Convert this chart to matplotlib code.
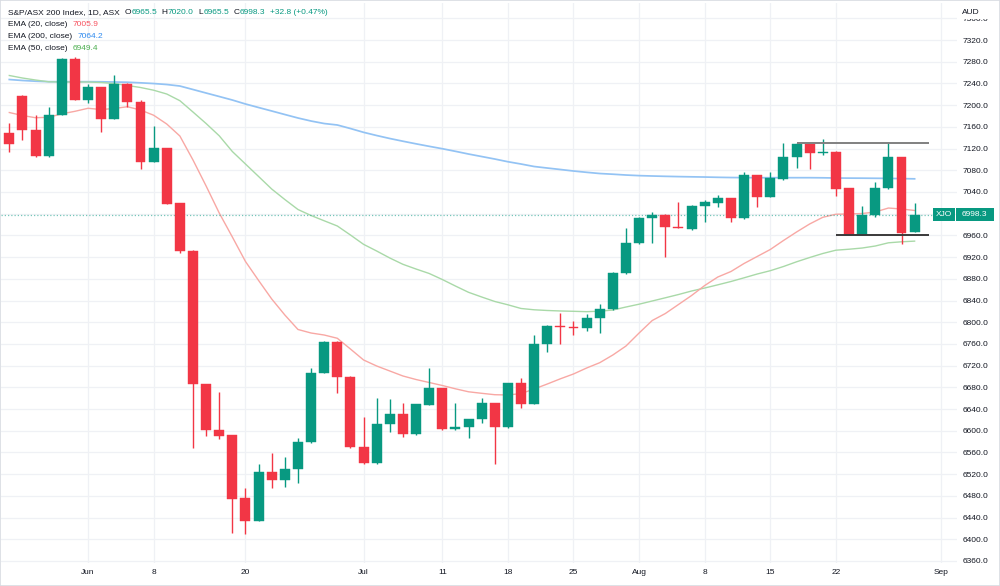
import matplotlib
matplotlib.use("Agg")
import matplotlib.pyplot as plt
from matplotlib.patches import Rectangle
import numpy as np

# ---------------- data ----------------
dates = ["May 24", "May 25", "May 26", "May 27", "May 30", "May 31",
         "Jun 1", "Jun 2", "Jun 3", "Jun 6", "Jun 7", "Jun 8", "Jun 9", "Jun 10",
         "Jun 14", "Jun 15", "Jun 16", "Jun 17", "Jun 20", "Jun 21", "Jun 22",
         "Jun 23", "Jun 24", "Jun 27", "Jun 28", "Jun 29", "Jun 30",
         "Jul 1", "Jul 4", "Jul 5", "Jul 6", "Jul 7", "Jul 8", "Jul 11", "Jul 12",
         "Jul 13", "Jul 14", "Jul 15", "Jul 18", "Jul 19", "Jul 20", "Jul 21",
         "Jul 22", "Jul 25", "Jul 26", "Jul 27", "Jul 28", "Jul 29",
         "Aug 1", "Aug 2", "Aug 3", "Aug 4", "Aug 5", "Aug 8", "Aug 9", "Aug 10",
         "Aug 11", "Aug 12", "Aug 15", "Aug 16", "Aug 17", "Aug 18", "Aug 19",
         "Aug 22", "Aug 23", "Aug 24", "Aug 25", "Aug 26", "Aug 29", "Aug 30"]
future_dates = ["Aug 31", "Sep 1"]

opens = [7149.2, 7217.4, 7154.2, 7105.7, 7182.4, 7285.5, 7209.4, 7233.4, 7174.4, 7239.5,
         7206.3, 7095.2, 7120.4, 7019.1, 6931.8, 6686.1, 6601.4, 6592.2, 6475.5, 6433.7,
         6524.5, 6509.3, 6529.0, 6578.7, 6707.0, 6764.1, 6699.6, 6570.0, 6540.0, 6613.0,
         6630.3, 6594.0, 6647.5, 6678.2, 6602.7, 6606.4, 6621.7, 6650.6, 6606.4, 6687.4,
         6649.3, 6759.8, 6793.6, 6791.5, 6788.8, 6807.2, 6823.8, 6890.1, 6945.4, 6992.6,
         6997.5, 6976.0, 6972.3, 7014.7, 7020.3, 7028.9, 6991.4, 7071.2, 7031.3, 7063.4,
         7105.0, 7127.8, 7111.2, 7114.2, 7046.7, 6960.7, 6997.5, 7046.7, 7103.9, 6965.5]
highs = [7166.5, 7219.0, 7181.8, 7196.0, 7286.0, 7288.1, 7238.4, 7234.0, 7255.5, 7240.0,
         7209.0, 7161.5, 7121.0, 7020.0, 6932.5, 6687.0, 6671.9, 6593.0, 6494.0, 6538.7,
         6558.4, 6552.2, 6586.0, 6715.0, 6765.0, 6765.0, 6700.5, 6624.8, 6659.8, 6657.9,
         6651.7, 6649.5, 6715.1, 6679.0, 6650.6, 6622.5, 6659.8, 6651.5, 6688.0, 6696.7,
         6776.4, 6794.5, 6816.4, 6802.8, 6814.6, 6833.6, 6893.0, 6973.0, 6994.0, 7002.5,
         6998.5, 7020.9, 7015.5, 7025.2, 7034.4, 7029.5, 7077.3, 7072.0, 7076.2, 7130.8,
         7130.8, 7128.5, 7137.6, 7115.0, 7047.5, 7014.1, 7058.9, 7130.8, 7104.5, 7020.0]
lows = [7114.2, 7135.7, 7105.0, 7105.0, 7181.8, 7208.8, 7204.5, 7151.0, 7173.8, 7197.1,
        7081.8, 7094.5, 7017.0, 6928.0, 6567.7, 6590.3, 6584.3, 6412.1, 6409.2, 6433.0,
        6494.0, 6497.0, 6504.3, 6578.0, 6706.0, 6669.0, 6569.0, 6539.0, 6539.0, 6598.2,
        6589.0, 6593.0, 6647.0, 6602.0, 6602.0, 6586.1, 6613.7, 6538.7, 6605.5, 6641.3,
        6648.5, 6745.7, 6759.8, 6776.4, 6784.4, 6780.7, 6823.0, 6889.0, 6944.5, 6945.4,
        6919.6, 6973.0, 6970.0, 6985.2, 7012.8, 6985.2, 6991.0, 7012.8, 7030.5, 7062.8,
        7083.6, 7081.8, 7108.6, 7032.6, 6960.0, 6960.0, 6993.3, 7046.0, 6944.1, 6965.5]
closes = [7127.8, 7154.2, 7105.7, 7182.4, 7285.5, 7209.4, 7233.4, 7174.4, 7239.5, 7205.8,
          7095.2, 7120.4, 7017.8, 6931.2, 6686.1, 6601.4, 6590.9, 6474.2, 6433.7, 6524.5,
          6509.3, 6529.0, 6578.7, 6707.0, 6764.1, 6699.6, 6570.0, 6540.0, 6613.0, 6630.3,
          6594.0, 6648.7, 6678.2, 6602.7, 6606.4, 6621.7, 6650.6, 6606.4, 6687.4, 6649.3,
          6759.8, 6793.6, 6791.2, 6789.3, 6807.2, 6823.8, 6890.1, 6945.4, 6992.6, 6997.5,
          6974.9, 6973.6, 7014.7, 7020.9, 7028.9, 6992.6, 7071.2, 7031.3, 7065.2, 7105.0,
          7127.8, 7112.3, 7114.2, 7045.4, 6960.7, 6997.5, 7047.8, 7103.9, 6964.9, 6998.3]

ema20 = [7186.4, 7180.9, 7176.8, 7177.6, 7184.0, 7188.6, 7194.2, 7191.9, 7193.8, 7197.1,
         7191.0, 7181.4, 7165.2, 7143.1, 7098.9, 7051.0, 7001.2, 6957.0, 6911.9, 6876.9,
         6842.8, 6813.3, 6786.6, 6780.1, 6776.4, 6770.4, 6750.6, 6730.4, 6719.3, 6710.1,
         6700.9, 6694.4, 6688.9, 6683.4, 6677.3, 6671.8, 6669.0, 6666.4, 6665.9, 6668.5,
         6676.9, 6686.1, 6695.7, 6704.6, 6715.6, 6725.4, 6739.6, 6756.1, 6780.1, 6803.1,
         6816.0, 6832.6, 6849.2, 6867.6, 6883.3, 6893.4, 6908.2, 6921.1, 6934.0, 6950.5,
         6966.2, 6981.0, 6993.3, 6999.0, 6999.4, 7000.3, 7003.1, 7010.4, 7008.6, 7005.9]
ema50 = [7254.6, 7250.0, 7246.3, 7243.0, 7242.6, 7242.6, 7242.6, 7241.7, 7239.8, 7236.2,
         7232.5, 7227.5, 7220.5, 7208.2, 7187.3, 7166.1, 7143.5, 7114.5, 7091.5, 7068.5,
         7045.4, 7026.1, 7007.7, 6996.6, 6986.9, 6977.3, 6960.7, 6943.5, 6931.2, 6918.3,
         6906.7, 6898.0, 6889.8, 6878.7, 6866.7, 6855.1, 6846.5, 6838.2, 6832.1, 6825.3,
         6822.9, 6821.6, 6820.7, 6820.1, 6819.4, 6820.3, 6822.5, 6828.0, 6833.2, 6839.1,
         6845.0, 6851.0, 6857.5, 6863.0, 6868.9, 6875.0, 6881.8, 6888.8, 6894.9, 6902.6,
         6911.3, 6919.2, 6926.6, 6932.7, 6934.5, 6936.7, 6940.4, 6946.3, 6948.2, 6949.4]
ema200 = [7247.2, 7245.4, 7244.1, 7243.2, 7243.2, 7243.2, 7243.2, 7243.0, 7242.6, 7242.2,
          7241.1, 7239.8, 7238.0, 7235.2, 7228.8, 7222.3, 7215.9, 7209.4, 7202.1, 7195.6,
          7189.2, 7182.7, 7176.3, 7170.7, 7166.1, 7163.4, 7156.9, 7149.9, 7144.0, 7138.5,
          7133.5, 7128.7, 7124.1, 7119.7, 7114.9, 7109.9, 7105.3, 7100.7, 7095.7, 7091.5,
          7086.9, 7084.1, 7081.4, 7078.6, 7076.2, 7074.0, 7072.7, 7071.2, 7070.1, 7069.4,
          7068.8, 7068.3, 7067.9, 7067.5, 7067.0, 7066.6, 7066.4, 7066.3, 7066.3, 7066.3,
          7066.3, 7066.3, 7066.1, 7065.7, 7065.5, 7065.4, 7065.2, 7065.0, 7064.6, 7064.2]

tick_dates = ["Jun 1", "Jun 8", "Jun 20", "Jul 1", "Jul 11", "Jul 18", "Jul 25",
              "Aug 1", "Aug 8", "Aug 15", "Aug 22", "Sep 1"]
tick_labels = ["Jun", "8", "20", "Jul", "11", "18", "25", "Aug", "8", "15", "22", "Sep"]

price_ticks = list(range(6360, 7400, 40))
hidden_price_labels = [7000]

level_prices = [7130.8, 6960.2]
level_start = ["Aug 17", "Aug 22"]
level_colors = ["#808080", "#3a3a3a"]

title = "S&P/ASX 200 Index, 1D, ASX"
ohlc_last = [("O", "6965.5"), ("H", "7020.0"), ("L", "6965.5"), ("C", "6998.3")]
change_text = "+32.8 (+0.47%)"
ema_legend = [("EMA (20, close)", "7005.9", "#F7525F"),
              ("EMA (200, close)", "7064.2", "#2E8AEF"),
              ("EMA (50, close)", "6949.4", "#4CAF50")]
last_close = 6998.3

# ---------------- style ----------------
W, H = 1000, 586
FONT = "Liberation Sans"
TXT = "#131722"
UP, DOWN = "#089981", "#F23645"
GRID = "#EFF1F5"
FS = 6.0

plt.rcParams["font.family"] = [FONT, "DejaVu Sans"]

fig = plt.figure(figsize=(W / 100, H / 100), dpi=100)
fig.patch.set_facecolor("white")

pane_l, pane_r, pane_t, pane_b = 1, 957, 3, 563
ax = fig.add_axes([pane_l / W, (H - pane_b) / H, (pane_r - pane_l) / W, (pane_b - pane_t) / H])
ax.set_facecolor("white")
for s in ax.spines.values():
    s.set_visible(False)

all_dates = dates + future_dates
idx = {d: i for i, d in enumerate(all_dates)}
x = np.arange(len(dates))
o = np.array(opens); h = np.array(highs); l = np.array(lows); c = np.array(closes)

ax.set_xlim(-0.633, 72.23)
ax.set_ylim(6356.3, 7388.2)

# grid
for p in price_ticks:
    ax.axhline(p, color=GRID, lw=0.9, zorder=0)
for d in tick_dates:
    ax.axvline(idx[d], color=GRID, lw=0.9, zorder=0)

# EMA lines
ax.plot(x, ema200, color="#93C3F4", lw=1.25, zorder=1)
ax.plot(x, ema50, color="#A9D9A8", lw=1.0, zorder=1)
ax.plot(x, ema20, color="#F8A8A4", lw=1.0, zorder=1)

# last price dotted line
ax.axhline(last_close, color=UP, lw=0.9, ls=(0, (1, 1.6)), alpha=0.55, zorder=1)

# candles
up = c >= o
cols = np.where(up, UP, DOWN)
ax.vlines(x, l, h, colors=cols, lw=1.0, zorder=2)
body_bottom = np.minimum(o, c)
body_h = np.maximum(np.abs(c - o), 2.2)
ax.bar(x, body_h, bottom=body_bottom, width=0.76, color=cols, edgecolor=cols,
       linewidth=0.3, zorder=3)

# horizontal levels
for p, d, col in zip(level_prices, level_start, level_colors):
    ax.hlines(p, idx[d], len(dates) + 0.1, color=col, lw=1.4, zorder=4)

# axes ticks
ax.set_xticks([idx[d] for d in tick_dates])
ax.set_xticklabels(tick_labels)
ax.tick_params(axis="x", length=0, pad=4.2, labelsize=FS, labelcolor=TXT)
ax.yaxis.tick_right()
ax.set_yticks(price_ticks)
ax.set_yticklabels(["" if p in hidden_price_labels else f"{p:.1f}" for p in price_ticks])
ax.tick_params(axis="y", length=0, pad=4.0, labelsize=FS, labelcolor=TXT)

# ---------------- overlays in pixel space ----------------
def fx(px):
    return px / W

def fy(py):
    return 1 - py / H

renderer = fig.canvas.get_renderer()

def put(px, py, s, color, **kw):
    return fig.text(fx(px), fy(py), s, color=color, fontsize=kw.pop("size", FS),
                    va="center", ha=kw.pop("ha", "left"), **kw)

def right_edge(t):
    return t.get_window_extent(renderer).x1

# legend line 1 (laid out left to right)
row1 = 12.5
cur = right_edge(put(8, row1, title, TXT)) + 4.5
for k, v in ohlc_last:
    cur = right_edge(put(cur, row1, k, TXT)) + 0.4
    cur = right_edge(put(cur, row1, v, UP)) + 4.5
put(cur, row1, change_text, UP)

# EMA legend lines
for i, (lab, val, col) in enumerate(ema_legend):
    yy = 24.5 + i * 11.8
    e = right_edge(put(8, yy, lab, TXT))
    put(e + 5, yy, val, col)

# price tag
disp_y = ax.transData.transform((0, last_close))[1]
tag_py = H - disp_y
box_h = 13
fig.patches.append(Rectangle((fx(933), fy(tag_py + box_h / 2)), fx(21.5), box_h / H,
                             transform=fig.transFigure, facecolor=UP, edgecolor="none", zorder=5))
fig.patches.append(Rectangle((fx(956), fy(tag_py + box_h / 2)), fx(37.5), box_h / H,
                             transform=fig.transFigure, facecolor=UP, edgecolor="none", zorder=5))
put(943.7, tag_py, "XJO", "white", ha="center", zorder=6)
put(974.7, tag_py, f"{last_close:.1f}", "white", ha="center", zorder=6)

# currency label covering the clipped top price label
fig.patches.append(Rectangle((fx(958), fy(19)), fx(42), 19 / H, transform=fig.transFigure,
                             facecolor="white", edgecolor="none", zorder=5))
put(962, 12.5, "AUD", TXT, zorder=6)

# frame
fig.patches.append(Rectangle((0, 0), 1, 1, transform=fig.transFigure, fill=False,
                             edgecolor="#D8DBE2", lw=1.2, zorder=7))

fig.savefig("out.png", dpi=100, facecolor="white")
